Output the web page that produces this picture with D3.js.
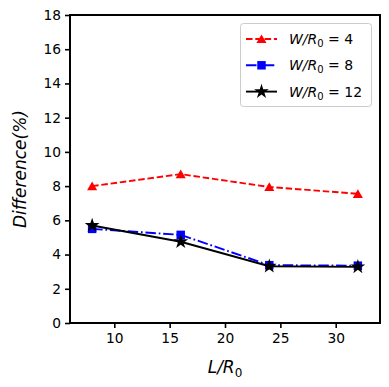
<!DOCTYPE html>
<meta charset="utf-8">
<head>
    <script src="https://d3js.org/d3.v7.min.js"></script>
</head>
<body style="margin:0; background:#fff;">
    <div id="svg_div"></div>
</body>
<script>
    // data
    var lengths = [8, 16, 24, 32];
    var diff_w4 = [8.0, 8.7, 7.95, 7.55];
    var diff_w8 = [5.5, 5.15, 3.38, 3.35];
    var diff_w12 = [5.7, 4.75, 3.32, 3.28];
    var y_ticks = [0, 2, 4, 6, 8, 10, 12, 14, 16, 18];
    var x_ticks = [10, 15, 20, 25, 30];
    var series_names = ["4", "8", "12"];

    var series = [
        { name: series_names[0], values: diff_w4, color: "#ff0000", dash: "6.5,2.8", marker: "triangle" },
        { name: series_names[1], values: diff_w8, color: "#0000ff", dash: "10.5,2.8,1.7,2.8", marker: "square" },
        { name: series_names[2], values: diff_w12, color: "#000000", dash: null, marker: "star" },
    ];

    var width = 389, height = 387;
    var margin = { left: 70, right: 9, top: 15, bottom: 64 };

    var svg = d3.select("#svg_div").append("svg")
        .attr("width", width)
        .attr("height", height)
        .style("font-family", "DejaVu Sans");

    var x = d3.scaleLinear().domain([6, 34]).range([margin.left, width - margin.right]);
    var y = d3.scaleLinear().domain([0, 18]).range([height - margin.bottom, margin.top]);

    var marker_shape = {
        triangle: d3.symbol().type(d3.symbolTriangle).size(44),
        square: d3.symbol().type(d3.symbolSquare).size(72),
        star: d3.symbol().type(d3.symbolStar).size(68),
    };

    // lines + markers
    series.forEach(function (s) {
        var g = svg.append("g");
        g.append("path")
            .datum(s.values)
            .attr("fill", "none")
            .attr("stroke", s.color)
            .attr("stroke-width", 1.9)
            .attr("stroke-dasharray", s.dash)
            .attr("d", d3.line()
                .x(function (d, i) { return x(lengths[i]); })
                .y(function (d) { return y(d); }));
        g.selectAll(".pt")
            .data(s.values)
            .enter().append("path")
            .attr("transform", function (d, i) {
                var dy = s.marker == "triangle" ? 1.2 : 0;
                return "translate(" + x(lengths[i]) + "," + (y(d) + dy) + ")";
            })
            .attr("d", marker_shape[s.marker])
            .attr("fill", s.color);
    });

    // axes
    var xAxis = svg.append("g")
        .attr("transform", "translate(0," + (height - margin.bottom) + ")")
        .call(d3.axisBottom(x).tickValues(x_ticks).tickSize(5).tickPadding(5));
    var yAxis = svg.append("g")
        .attr("transform", "translate(" + margin.left + ",0)")
        .call(d3.axisLeft(y).tickValues(y_ticks).tickSize(5).tickPadding(4));
    [xAxis, yAxis].forEach(function (a) {
        a.select(".domain").remove();
        a.selectAll("line").attr("stroke", "#000").attr("stroke-width", 1.6);
        a.selectAll("text").attr("fill", "#000").style("font-size", "13.8px").style("font-family", "DejaVu Sans");
    });

    // frame
    svg.append("rect")
        .attr("x", margin.left)
        .attr("y", margin.top)
        .attr("width", width - margin.left - margin.right)
        .attr("height", height - margin.top - margin.bottom)
        .attr("fill", "none")
        .attr("stroke", "#000")
        .attr("stroke-width", 2);

    // axis labels
    var xl = svg.append("text")
        .attr("x", (margin.left + width - margin.right) / 2)
        .attr("y", 373)
        .attr("text-anchor", "middle")
        .style("font-size", "17px")
        .style("font-style", "italic");
    xl.append("tspan").text("L/R");
    xl.append("tspan").attr("dy", 4).style("font-size", "12px").style("font-style", "normal").text("0");

    svg.append("text")
        .attr("transform", "translate(26," + ((margin.top + height - margin.bottom) / 2) + ") rotate(-90)")
        .attr("text-anchor", "middle")
        .style("font-size", "17px")
        .style("font-style", "italic")
        .text("Difference(%)");

    // legend
    var legend = svg.append("g");
    legend.append("rect")
        .attr("x", 240.5).attr("y", 23.5)
        .attr("width", 131).attr("height", 83)
        .attr("rx", 3)
        .attr("fill", "#fff").attr("fill-opacity", 0.8)
        .attr("stroke", "#cccccc").attr("stroke-width", 1);

    series.forEach(function (s, i) {
        var ly = 39 + i * 26.3;
        legend.append("line")
            .attr("x1", 246).attr("x2", 277)
            .attr("y1", ly).attr("y2", ly)
            .attr("stroke", s.color)
            .attr("stroke-width", 1.9)
            .attr("stroke-dasharray", s.dash);
        legend.append("path")
            .attr("transform", "translate(261.5," + (ly + (s.marker == "triangle" ? 1.2 : 0)) + ")")
            .attr("d", marker_shape[s.marker])
            .attr("fill", s.color);
        var t = legend.append("text")
            .attr("x", 289).attr("y", ly + 5)
            .style("font-size", "14px");
        t.append("tspan").style("font-style", "italic").text("W/R");
        t.append("tspan").attr("dy", 3).style("font-size", "10px").text("0");
        t.append("tspan").attr("dy", -3).text(" = " + s.name);
    });
</script>
